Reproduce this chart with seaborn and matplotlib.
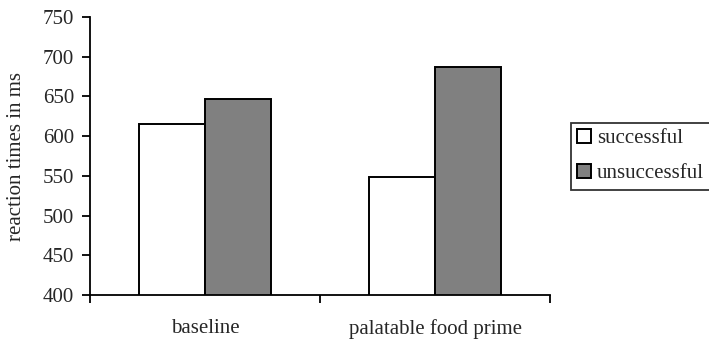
import numpy as np
import matplotlib
matplotlib.use("Agg")
import matplotlib.pyplot as plt
import pandas as pd
import seaborn as sns

# Data
conditions = ["baseline", "palatable food prime"]
outcomes = ["successful", "unsuccessful"]
successful_ms = [615, 549]
unsuccessful_ms = [647, 687]
y_ticks = [400, 450, 500, 550, 600, 650, 700, 750]


def main():
    sns.set_style("white")
    plt.rcParams["font.family"] = ["Liberation Serif", "DejaVu Serif"]

    df = pd.DataFrame({
        "condition": conditions * 2,
        "outcome": [outcomes[0]] * 2 + [outcomes[1]] * 2,
        "rt": successful_ms + unsuccessful_ms,
    })

    fig = plt.figure(figsize=(7.09, 3.4), dpi=100)
    ax = fig.add_axes([0.127, 0.132, 0.649, 0.818])

    sns.barplot(data=df, x="condition", y="rt", hue="outcome",
                order=conditions, hue_order=outcomes,
                palette={"successful": "white", "unsuccessful": "#808080"},
                width=0.575, edgecolor="black", linewidth=1.4,
                saturation=1, errorbar=None, ax=ax)

    fs = 15
    ax.set_ylim(400, 750)
    ax.set_yticks(y_ticks)
    ax.set_yticklabels([str(t) for t in y_ticks], fontsize=fs)
    ax.set_ylabel("reaction times in ms", fontsize=fs)
    ax.yaxis.set_label_coords(-0.139, 0.5)
    ax.set_xlabel("")

    # category labels on minor ticks, boundary tick marks on major ticks
    ax.set_xlim(-0.5, 1.5)
    ax.set_xticks([-0.5, 0.5, 1.5])
    ax.set_xticklabels([])
    ax.set_xticks([0, 1], minor=True)
    ax.set_xticklabels(conditions, minor=True, fontsize=fs)
    ax.tick_params(axis="x", which="minor", bottom=False, length=0, pad=17)
    ax.tick_params(axis="x", which="major", bottom=True, direction="out",
                   length=5.5, width=1.3, color="black")
    ax.tick_params(axis="y", left=True, direction="out", length=5.5,
                   width=1.3, color="black", pad=6)

    for side in ["top", "right"]:
        ax.spines[side].set_visible(False)
    for side in ["left", "bottom"]:
        ax.spines[side].set_color("black")
        ax.spines[side].set_linewidth(1.3)

    ax.get_legend().remove()
    handles = [plt.Rectangle((0, 0), 1, 1, facecolor="white", edgecolor="black", linewidth=1.4),
               plt.Rectangle((0, 0), 1, 1, facecolor="#808080", edgecolor="black", linewidth=1.4)]
    leg = fig.legend(handles, outcomes, loc="center left",
                     bbox_to_anchor=(0.805, 0.541), fontsize=fs,
                     frameon=True, fancybox=False, edgecolor="black",
                     handlelength=0.67, handleheight=0.67, handletextpad=0.28,
                     borderpad=0.3, labelspacing=0.75, borderaxespad=0)
    leg.get_frame().set_linewidth(1.3)

    fig.savefig("out.png", dpi=100)
    plt.close(fig)


if __name__ == "__main__":
    main()
